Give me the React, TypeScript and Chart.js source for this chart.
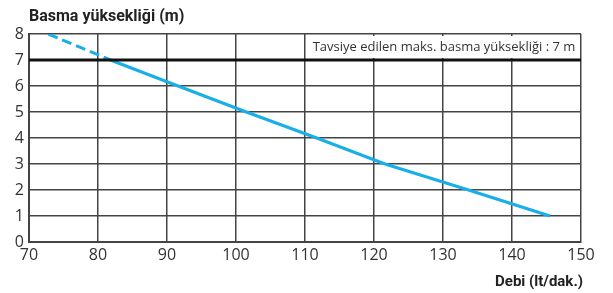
import React, { useEffect, useRef } from "react";
import { Chart, registerables } from "chart.js";

Chart.register(...registerables);

// Data
const flowSolid = [81.8, 91.6, 101.5, 111.7, 121.6, 133.7, 145.5];
const headSolid = [7, 6, 5, 4, 3, 2, 1];
const flowDashed = [72.8, 81.8];
const headDashed = [8, 7];
const maxHead = 7;
const xMin = 70;
const xMax = 150;
const xStep = 10;
const yMin = 0;
const yMax = 8;
const yStep = 1;
const yTitle = "Basma yüksekliği (m)";
const xTitle = "Debi (lt/dak.)";
const noteText = "Tavsiye edilen maks. basma yüksekliği : 7 m";

const BLUE = "#17aee9";
const GRID = "#444444";
const TEXT = "#333333";

export default function App() {
  const ref = useRef<HTMLCanvasElement | null>(null);

  useEffect(() => {
    const canvas = ref.current;
    if (!canvas) return;

    const textPlugin = {
      id: "texts",
      beforeDatasetsDraw(chart: any) {
        const { ctx, scales } = chart;
        const x = scales.x;
        const y = scales.y;
        const left = x.getPixelForValue(110) + 1;
        const right = x.getPixelForValue(xMax) - 1;
        const top = y.getPixelForValue(yMax) + 2;
        const bottom = y.getPixelForValue(maxHead) - 2;
        ctx.save();
        ctx.fillStyle = "#ffffff";
        ctx.fillRect(left, top, right - left, bottom - top);
        ctx.fillStyle = TEXT;
        ctx.font = "13px 'Open Sans'";
        ctx.textAlign = "center";
        ctx.textBaseline = "middle";
        ctx.fillText(noteText, (left + right) / 2 + 1, (top + bottom) / 2);
        ctx.restore();
      },
      afterDraw(chart: any) {
        const { ctx } = chart;
        ctx.save();
        ctx.fillStyle = "#222222";
        ctx.font = "bold 16px Roboto";
        ctx.textBaseline = "middle";
        ctx.textAlign = "left";
        ctx.fillText(yTitle, 29, 17);
        ctx.font = "bold 15px Roboto";
        ctx.textAlign = "right";
        ctx.fillText(xTitle, 583, 282);
        ctx.restore();
      },
    };

    const chart = new Chart(canvas, {
      type: "scatter",
      data: {
        datasets: [
          {
            data: [
              { x: xMin, y: maxHead },
              { x: xMax, y: maxHead },
            ],
            borderColor: "#111111",
            borderWidth: 3,
            showLine: true,
            pointRadius: 0,
          },
          {
            data: flowDashed.map((v, i) => ({ x: v, y: headDashed[i] })),
            borderColor: BLUE,
            borderWidth: 3,
            borderDash: [10, 5],
            showLine: true,
            pointRadius: 0,
          },
          {
            data: flowSolid.map((v, i) => ({ x: v, y: headSolid[i] })),
            borderColor: BLUE,
            borderWidth: 3,
            showLine: true,
            pointRadius: 0,
          },
        ],
      },
      options: {
        animation: false,
        responsive: false,
        layout: { padding: { left: 0, right: 32, top: 34, bottom: 0 } },
        plugins: {
          legend: { display: false },
          tooltip: { enabled: false },
        },
        scales: {
          x: {
            type: "linear",
            min: xMin,
            max: xMax,
            ticks: {
              stepSize: xStep,
              color: TEXT,
              font: { family: "'Open Sans'", size: 16 },
              padding: 4,
              maxRotation: 0,
            },
            grid: { color: GRID, lineWidth: 1.5, drawTicks: false },
            border: { color: GRID, width: 2 },
            afterFit(scale: any) {
              scale.height = 51;
            },
          },
          y: {
            min: yMin,
            max: yMax,
            ticks: {
              stepSize: yStep,
              color: TEXT,
              font: { family: "'Open Sans'", size: 16 },
              padding: 5,
            },
            grid: { color: GRID, lineWidth: 1.5, drawTicks: false },
            border: { color: GRID, width: 2 },
            afterFit(scale: any) {
              scale.width = 29;
            },
          },
        },
      },
      plugins: [textPlugin],
    });

    return () => chart.destroy();
  }, []);

  return (
    <div style={{ position: "fixed", left: 0, top: 0, width: 613, height: 293, background: "#fff" }}>
      <canvas ref={ref} width={613} height={293} />
    </div>
  );
}
